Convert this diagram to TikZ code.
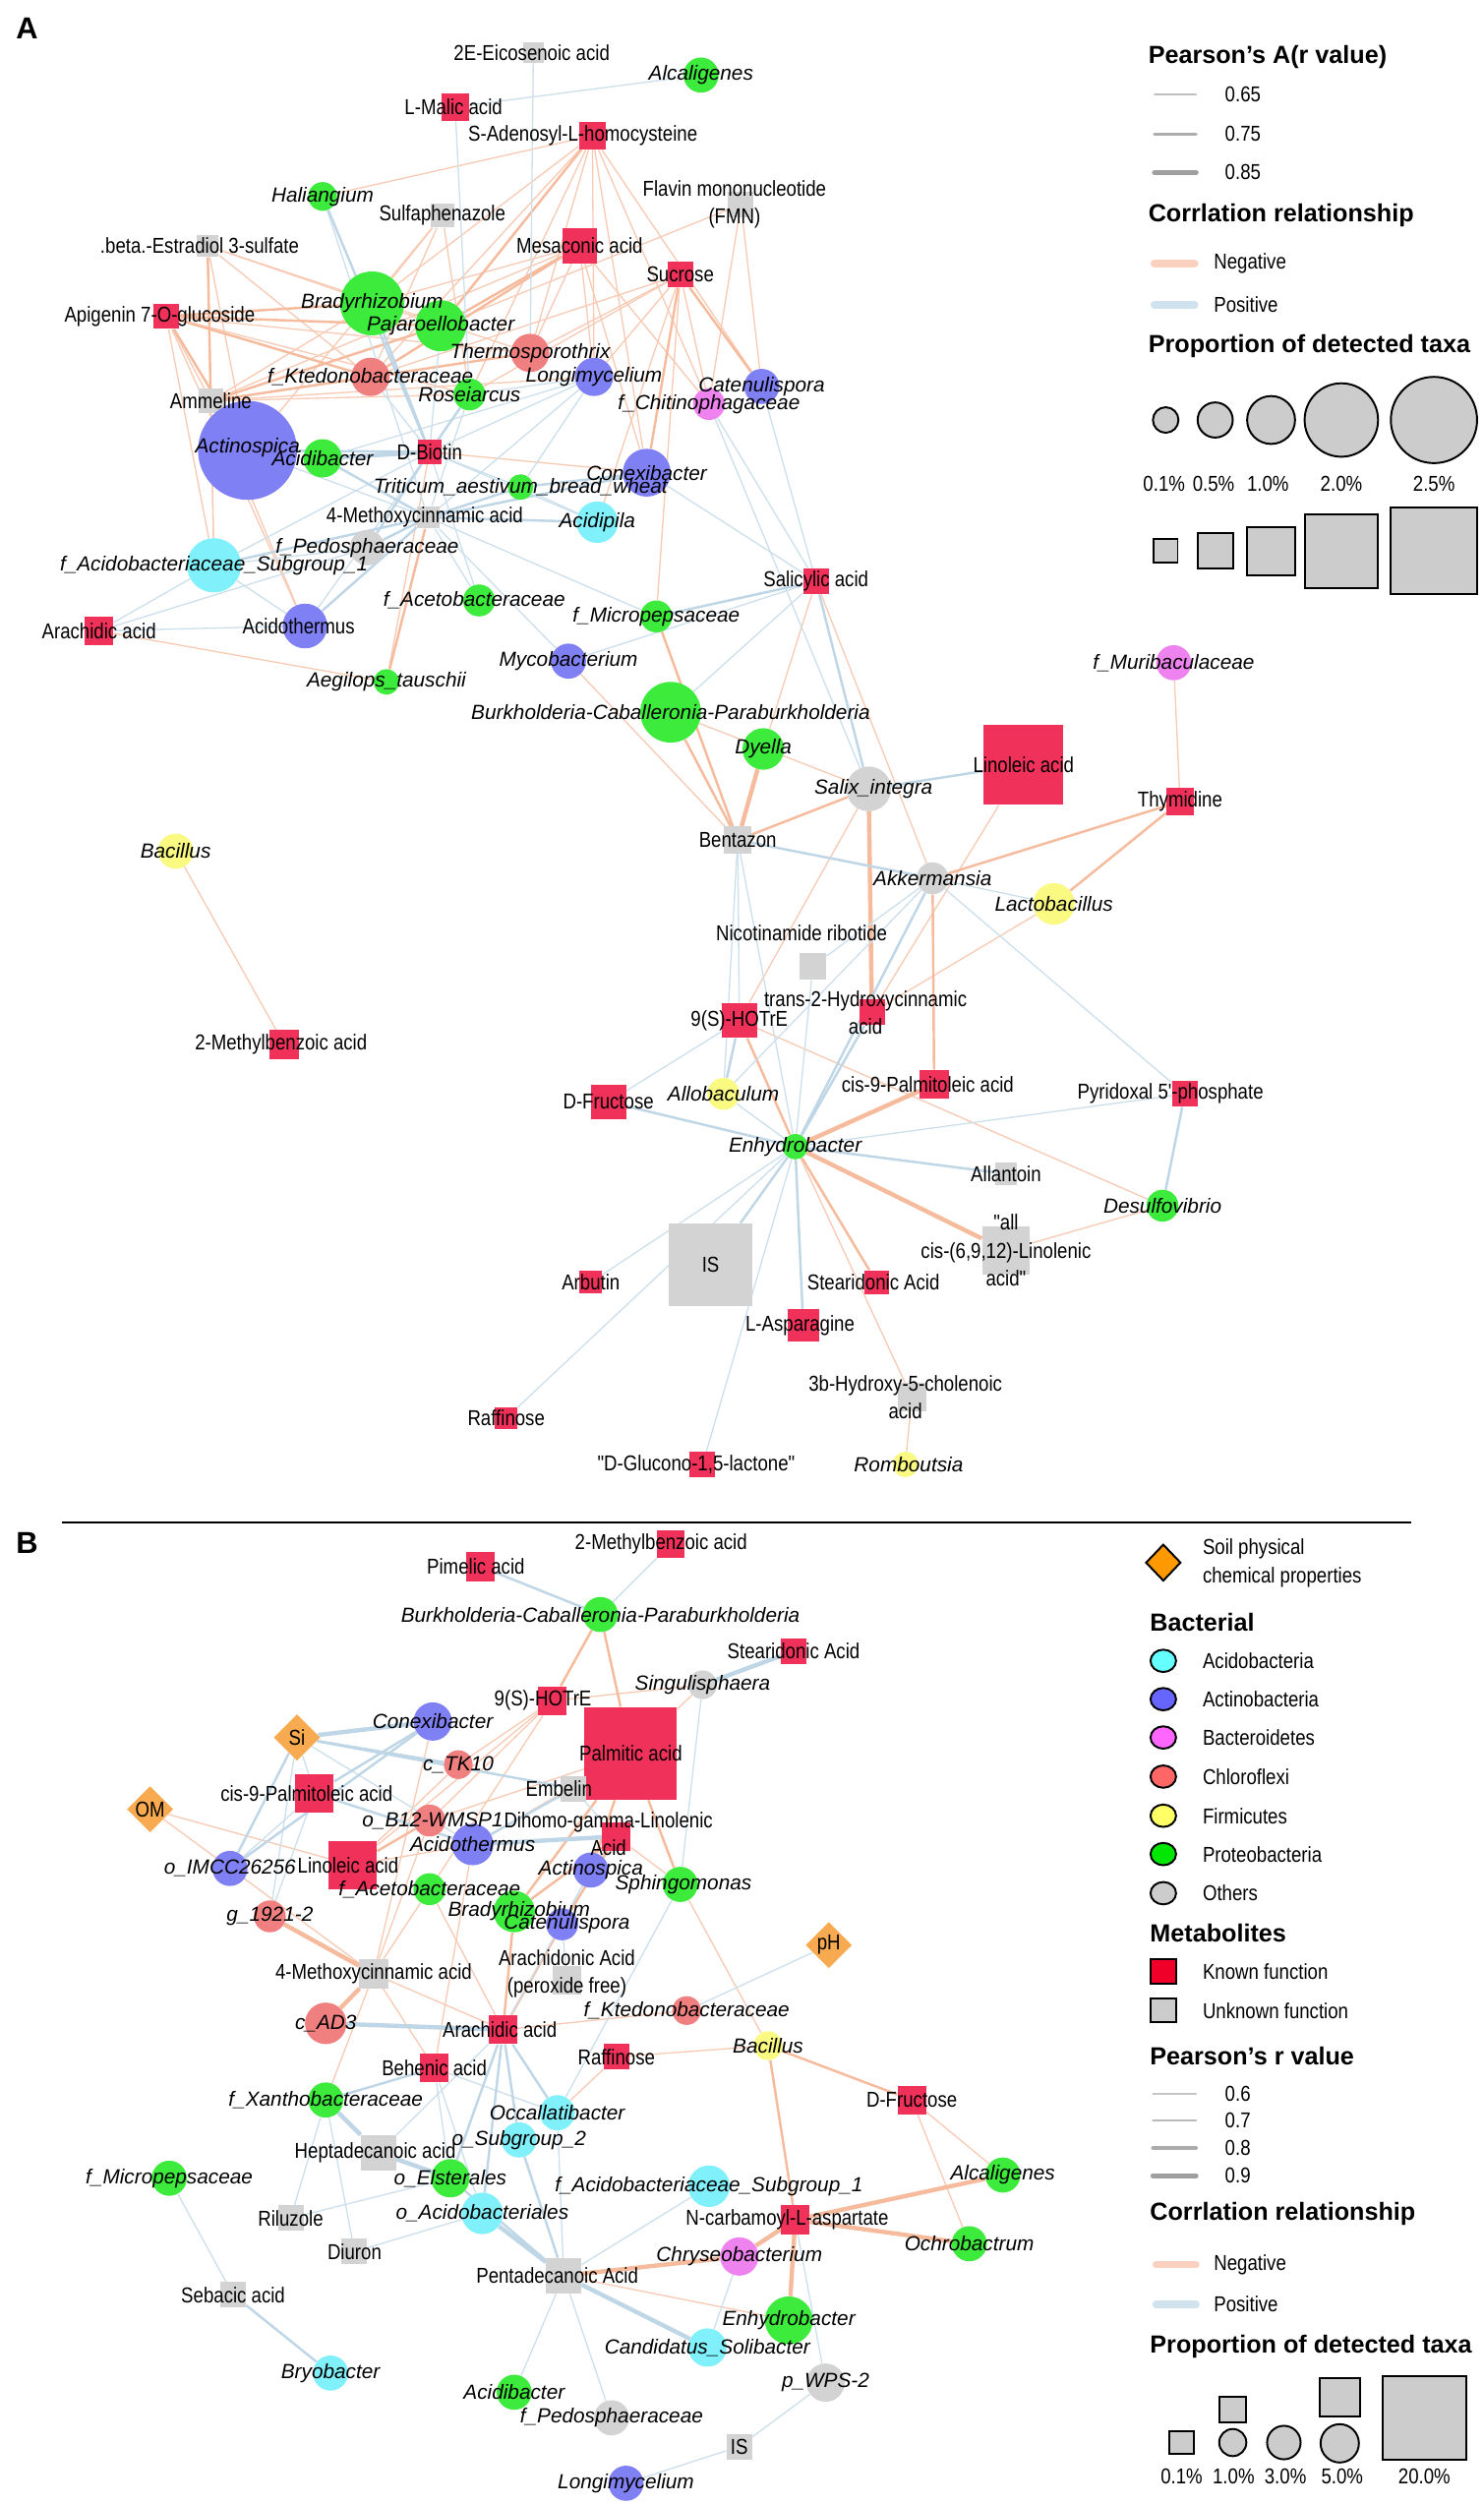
\documentclass[tikz,border=0pt]{standalone}
\usepackage{fontspec}
\setmainfont{Liberation Sans}
\newfontfamily\labf{Liberation Sans}[FakeStretch=0.85]
\usetikzlibrary{shapes.geometric}
\pgfdeclarelayer{bg}\pgfdeclarelayer{fg}
\pgfsetlayers{bg,main,fg}
\definecolor{cgreen}{RGB}{60,235,60}
\definecolor{cblue}{RGB}{128,128,245}
\definecolor{ccyan}{RGB}{128,240,250}
\definecolor{csal}{RGB}{240,128,128}
\definecolor{cmag}{RGB}{238,130,238}
\definecolor{cyel}{RGB}{250,250,130}
\definecolor{cgrey}{RGB}{211,211,211}
\definecolor{cred}{RGB}{240,50,90}
\definecolor{corange}{RGB}{248,170,80}
\definecolor{negc}{RGB}{246,186,156}
\definecolor{negt}{RGB}{248,202,180}
\definecolor{posc}{RGB}{190,214,230}
\definecolor{post}{RGB}{204,224,236}
\definecolor{negl}{RGB}{250,208,190}
\definecolor{posl}{RGB}{208,226,238}
\definecolor{lg}{RGB}{204,204,204}
\definecolor{Lcyan}{RGB}{102,255,255}
\definecolor{Lblue}{RGB}{102,102,255}
\definecolor{Lmag}{RGB}{255,102,255}
\definecolor{Lsal}{RGB}{255,102,102}
\definecolor{Lyel}{RGB}{255,255,102}
\definecolor{Lgreen}{RGB}{0,230,0}
\definecolor{Lred}{RGB}{240,0,40}
\definecolor{Lorange}{RGB}{255,153,0}
\tikzset{
  bc/.style={circle},
  ms/.style={rectangle},
  dm/.style={diamond},
  mlab/.style={font=\labf\fontsize{13.5}{17.5}\selectfont, inner sep=0pt, align=center, text=black},
  blab/.style={font=\fontsize{12.8}{15}\selectfont\itshape, inner sep=0pt, text=black},
  ttl/.style={font=\bfseries\fontsize{15.5}{18}\selectfont, anchor=west, inner sep=0pt},
  ltx/.style={font=\labf\fontsize{13.5}{16}\selectfont, anchor=west, inner sep=0pt},
  ctx/.style={font=\labf\fontsize{13.5}{16}\selectfont, inner sep=0pt},
  n1/.style={draw=negt, line width=0.8pt},
  n2/.style={draw=negc, line width=1.5pt},
  n3/.style={draw=negc, line width=2.7pt},
  p1/.style={draw=post, line width=0.8pt},
  p2/.style={draw=posc, line width=1.5pt},
  p3/.style={draw=posc, line width=2.7pt},
  lsh/.style={draw=black, line width=1.2pt, fill=lg, inner sep=0pt},
}
\newcommand{\nd}[8]{%
  \node[#2, fill=#6, minimum size=#5pt, inner sep=0pt] (#1) at (#3,#4) {};%
  \begin{pgfonlayer}{fg}\node[#7] (#1t) at (#3,#4) {#8};\end{pgfonlayer}}
\begin{document}
\begin{tikzpicture}[x=1pt,y=-1pt]
\begin{pgfonlayer}{bg}
\fill[white] (0,0) rectangle (929,1568);
\end{pgfonlayer}
\useasboundingbox (0,0) rectangle (929,1568);
\node[font=\bfseries\fontsize{19}{20}\selectfont] (pA) at (17,18) {A};
\node[font=\bfseries\fontsize{19}{20}\selectfont] (pB) at (17,966) {B};
\draw[line width=1.1pt] (39,953.5) -- (884,953.5);

% ---------------- Panel A nodes ----------------
\nd{aAlc}{bc}{439}{47}{22}{cgreen}{blab}{Alcaligenes}
\nd{a2E}{ms}{334}{33}{13}{cgrey}{mlab,xshift=-1pt}{2E-Eicosenoic acid}
\nd{aMal}{ms}{285}{67}{17}{cred}{mlab,xshift=-1pt}{L-Malic acid}
\nd{aSAH}{ms}{371}{85}{17}{cred}{mlab,xshift=-6pt}{S-Adenosyl-L-homocysteine}
\nd{aHal}{bc}{202}{123}{18}{cgreen}{blab}{Haliangium}
\nd{aSul}{ms}{277}{135}{15}{cgrey}{mlab}{Sulfaphenazole}
\nd{aFMN}{ms}{464}{128}{16}{cgrey}{mlab,xshift=-4pt}{Flavin mononucleotide\\(FMN)}
\nd{aEst}{ms}{130}{154}{14}{cgrey}{mlab,xshift=-5pt}{.beta.-Estradiol 3-sulfate}
\nd{aMes}{ms}{363}{154}{22}{cred}{mlab}{Mesaconic acid}
\nd{aSuc}{ms}{426}{172}{16}{cred}{mlab}{Sucrose}
\nd{aApi}{ms}{104}{198}{16}{cred}{mlab,xshift=-4pt}{Apigenin 7-O-glucoside}
\nd{aBra}{bc}{233}{190}{40}{cgreen}{blab}{Bradyrhizobium}
\nd{aPaj}{bc}{276}{204}{32}{cgreen}{blab}{Pajaroellobacter}
\nd{aThe}{bc}{332}{221}{24}{csal}{blab}{Thermosporothrix}
\nd{aKte}{bc}{232}{236}{24}{csal}{blab}{f\_Ktedonobacteraceae}
\nd{aLon}{bc}{372}{236}{24}{cblue}{blab}{Longimycelium}
\nd{aCat}{bc}{477}{242}{22}{cblue}{blab}{Catenulispora}
\nd{aChi}{bc}{444}{253}{20}{cmag}{blab}{f\_Chitinophagaceae}
\nd{aRos}{bc}{294}{247}{20}{cgreen}{blab}{Roseiarcus}
\nd{aAmm}{ms}{132}{251}{15}{cgrey}{mlab}{Ammeline}
\nd{aAct}{bc}{155}{282}{62}{cblue}{blab,yshift=2pt}{Actinospica}
\nd{aAcb}{bc}{202}{287}{24}{cgreen}{blab}{Acidibacter}
\nd{aBio}{ms}{269}{283}{15}{cred}{mlab}{D-Biotin}
\nd{aCon}{bc}{405}{296}{30}{cblue}{blab}{Conexibacter}
\nd{aTri}{bc}{326}{305}{16}{cgreen}{blab}{Triticum\_aestivum\_bread\_wheat}
\nd{aMet}{ms}{268}{324}{14}{cgrey}{mlab,xshift=-2pt}{4-Methoxycinnamic acid}
\nd{aAcp}{bc}{374}{327}{26}{ccyan}{blab}{Acidipila}
\nd{aPed}{bc}{230}{343}{22}{cgrey}{blab}{f\_Pedosphaeraceae}
\nd{aSub}{bc}{134}{354}{34}{ccyan}{blab}{f\_Acidobacteriaceae\_Subgroup\_1}
\nd{aAra}{ms}{62}{395}{18}{cred}{mlab}{Arachidic acid}
\nd{aAth}{bc}{191}{392}{28}{cblue}{mlab,xshift=-4pt}{Acidothermus}
\nd{aAce}{bc}{300}{376}{20}{cgreen}{blab,xshift=-3pt}{f\_Acetobacteraceae}
\nd{aMic}{bc}{411}{386}{20}{cgreen}{blab}{f\_Micropepsaceae}
\nd{aMyc}{bc}{356}{414}{22}{cblue}{blab}{Mycobacterium}
\nd{aAeg}{bc}{242}{427}{16}{cgreen}{blab}{Aegilops\_tauschii}
\nd{aSal}{ms}{511}{364}{16}{cred}{mlab}{Salicylic acid}
\nd{aBur}{bc}{420}{446}{38}{cgreen}{blab}{Burkholderia-Caballeronia-Paraburkholderia}
\nd{aDye}{bc}{478}{469}{26}{cgreen}{blab}{Dyella}
\nd{aMur}{bc}{735}{415}{22}{cmag}{blab}{f\_Muribaculaceae}
\nd{aSix}{bc}{544}{494}{28}{cgrey}{blab,xshift=3pt}{Salix\_integra}
\nd{aLin}{ms}{641}{479}{50}{cred}{mlab}{Linoleic acid}
\nd{aThy}{ms}{739}{502}{17}{cred}{mlab}{Thymidine}
\nd{aBen}{ms}{462}{526}{17}{cgrey}{mlab}{Bentazon}
\nd{aAkk}{bc}{584}{550}{20}{cgrey}{blab}{Akkermansia}
\nd{aLac}{bc}{660}{566}{26}{cyel}{blab}{Lactobacillus}
\nd{aBac}{bc}{110}{533}{22}{cyel}{blab}{Bacillus}
\nd{aNic}{ms}{509}{605}{17}{cgrey}{mlab,xshift=-7pt,yshift=21pt}{Nicotinamide ribotide}
\nd{aTra}{ms}{546}{634}{16}{cred}{mlab,xshift=-4pt}{trans-2-Hydroxycinnamic\\acid}
\nd{aHot}{ms}{463}{639}{22}{cred}{mlab}{9(S)-HOTrE}
\nd{aMbz}{ms}{178}{654}{18}{cred}{mlab,xshift=-2pt}{2-Methylbenzoic acid}
\nd{aFru}{ms}{381}{690}{22}{cred}{mlab}{D-Fructose}
\nd{aAll}{bc}{453}{685}{20}{cyel}{blab}{Allobaculum}
\nd{aPal}{ms}{585}{679}{18}{cred}{mlab,xshift=-4pt}{cis-9-Palmitoleic acid}
\nd{aPyr}{ms}{742}{685}{16}{cred}{mlab,xshift=-9pt}{Pyridoxal 5'-phosphate}
\nd{aEnh}{bc}{498}{718}{16}{cgreen}{blab}{Enhydrobacter}
\nd{aAln}{ms}{630}{735}{14}{cgrey}{mlab}{Allantoin}
\nd{aDes}{bc}{728}{755}{20}{cgreen}{blab}{Desulfovibrio}
\nd{aLnl}{ms}{630}{783}{30}{cgrey}{mlab}{"all\\cis-(6,9,12)-Linolenic\\acid"}
\nd{aIS}{ms}{445}{792}{52}{cgrey}{mlab}{IS}
\nd{aArb}{ms}{370}{803}{14}{cred}{mlab}{Arbutin}
\nd{aSte}{ms}{549}{803}{15}{cred}{mlab,xshift=-2pt}{Stearidonic Acid}
\nd{aAsn}{ms}{503}{830}{20}{cred}{mlab,xshift=-2pt}{L-Asparagine}
\nd{aHyd}{ms}{571}{875}{18}{cgrey}{mlab,xshift=-4pt}{3b-Hydroxy-5-cholenoic\\acid}
\nd{aRaf}{ms}{317}{888}{14}{cred}{mlab}{Raffinose}
\nd{aGlu}{ms}{440}{917}{16}{cred}{mlab,xshift=-4pt}{"D-Glucono-1,5-lactone"}
\nd{aRom}{bc}{567}{917}{16}{cyel}{blab,xshift=2pt}{Romboutsia}

% ---------------- Panel B nodes ----------------
\nd{bMbz}{ms}{420}{967}{17}{cred}{mlab,xshift=-6pt}{2-Methylbenzoic acid}
\nd{bPim}{ms}{301}{981}{18}{cred}{mlab,xshift=-3pt}{Pimelic acid}
\nd{bBur}{bc}{376}{1011}{22}{cgreen}{blab}{Burkholderia-Caballeronia-Paraburkholderia}
\nd{bSte}{ms}{497}{1034}{16}{cred}{mlab}{Stearidonic Acid}
\nd{bSin}{bc}{440}{1055}{18}{cgrey}{blab}{Singulisphaera}
\nd{bHot}{ms}{346}{1065}{18}{cred}{mlab,xshift=-6pt}{9(S)-HOTrE}
\nd{bPal}{ms}{395}{1098}{58}{cred}{mlab}{Palmitic acid}
\nd{bCon}{bc}{271}{1078}{24}{cblue}{blab}{Conexibacter}
\nd{bSi}{dm}{186}{1088}{29}{corange}{mlab}{Si}
\nd{bTK}{bc}{287}{1105}{18}{csal}{blab}{c\_TK10}
\nd{bEmb}{ms}{359}{1120}{16}{cgrey}{mlab,xshift=-9pt}{Embelin}
\nd{bCis}{ms}{197}{1123}{24}{cred}{mlab,xshift=-5pt}{cis-9-Palmitoleic acid}
\nd{bOM}{dm}{94}{1133}{29}{corange}{mlab}{OM}
\nd{bB}{bc}{269}{1140}{20}{csal}{blab,xshift=2pt}{o\_B12-WMSP1}
\nd{bDih}{ms}{386}{1150}{18}{cred}{mlab,xshift=-5pt,yshift=1.5pt}{Dihomo-gamma-Linolenic\\Acid}
\nd{bAth}{bc}{296}{1155}{26}{cblue}{blab}{Acidothermus}
\nd{bIMC}{bc}{144}{1170}{22}{cblue}{blab}{o\_IMCC26256}
\nd{bLin}{ms}{221}{1168}{30}{cred}{mlab,xshift=-3pt}{Linoleic acid}
\nd{bAct}{bc}{370}{1171}{22}{cblue}{blab}{Actinospica}
\nd{bSph}{bc}{426}{1180}{22}{cgreen}{blab,xshift=2pt}{Sphingomonas}
\nd{bAce}{bc}{269}{1183}{20}{cgreen}{blab}{f\_Acetobacteraceae}
\nd{bG}{bc}{169}{1200}{20}{csal}{blab}{g\_1921-2}
\nd{bBra}{bc}{322}{1197}{26}{cgreen}{blab,xshift=3pt}{Bradyrhizobium}
\nd{bCat}{bc}{352}{1205}{20}{cblue}{blab,xshift=3pt}{Catenulispora}
\nd{bMet}{ms}{234}{1236}{18}{cgrey}{mlab}{4-Methoxycinnamic acid}
\nd{bArd}{ms}{355}{1240}{18}{cgrey}{mlab,yshift=4pt}{Arachidonic Acid\\(peroxide free)}
\nd{bpH}{dm}{519}{1218}{29}{corange}{mlab}{pH}
\nd{bAD}{bc}{204}{1267}{26}{csal}{blab}{c\_AD3}
\nd{bKte}{bc}{430}{1259}{18}{csal}{blab}{f\_Ktedonobacteraceae}
\nd{bAra}{ms}{315}{1271}{18}{cred}{mlab,xshift=-2pt}{Arachidic acid}
\nd{bRaf}{ms}{386}{1288}{16}{cred}{mlab}{Raffinose}
\nd{bBac}{bc}{481}{1281}{18}{cyel}{blab}{Bacillus}
\nd{bBeh}{ms}{272}{1295}{18}{cred}{mlab}{Behenic acid}
\nd{bFru}{ms}{571}{1315}{18}{cred}{mlab}{D-Fructose}
\nd{bXan}{bc}{204}{1315}{22}{cgreen}{blab}{f\_Xanthobacteraceae}
\nd{bOcc}{bc}{349}{1323}{22}{ccyan}{blab}{Occallatibacter}
\nd{bSubb}{bc}{325}{1340}{22}{ccyan}{blab}{o\_Subgroup\_2}
\nd{bHep}{ms}{237}{1348}{22}{cgrey}{mlab,xshift=-2pt}{Heptadecanoic acid}
\nd{bEls}{bc}{282}{1364}{24}{cgreen}{blab}{o\_Elsterales}
\nd{bMic}{bc}{106}{1364}{22}{cgreen}{blab}{f\_Micropepsaceae}
\nd{bSub}{bc}{444}{1369}{26}{ccyan}{blab}{f\_Acidobacteriaceae\_Subgroup\_1}
\nd{bAlc}{bc}{628}{1362}{22}{cgreen}{blab}{Alcaligenes}
\nd{bAcr}{bc}{302}{1386}{26}{ccyan}{blab}{o\_Acidobacteriales}
\nd{bNca}{ms}{498}{1390}{18}{cred}{mlab,xshift=-5pt}{N-carbamoyl-L-aspartate}
\nd{bRil}{ms}{182}{1389}{16}{cgrey}{mlab}{Riluzole}
\nd{bDiu}{ms}{222}{1410}{16}{cgrey}{mlab}{Diuron}
\nd{bOch}{bc}{607}{1405}{22}{cgreen}{blab}{Ochrobactrum}
\nd{bChr}{bc}{463}{1413}{24}{cmag}{blab}{Chryseobacterium}
\nd{bPen}{ms}{353}{1425}{22}{cgrey}{mlab,xshift=-4pt}{Pentadecanoic Acid}
\nd{bSeb}{ms}{146}{1437}{16}{cgrey}{mlab}{Sebacic acid}
\nd{bEnh}{bc}{494}{1453}{30}{cgreen}{blab}{Enhydrobacter}
\nd{bSol}{bc}{443}{1470}{24}{ccyan}{blab}{Candidatus\_Solibacter}
\nd{bBry}{bc}{207}{1486}{22}{ccyan}{blab}{Bryobacter}
\nd{bWPS}{bc}{517}{1492}{24}{cgrey}{blab}{p\_WPS-2}
\nd{bAcb}{bc}{322}{1498}{22}{cgreen}{blab}{Acidibacter}
\nd{bPed}{bc}{383}{1514}{22}{cgrey}{blab}{f\_Pedosphaeraceae}
\nd{bIS}{ms}{463}{1532}{16}{cgrey}{mlab}{IS}
\nd{bLon}{bc}{392}{1555}{22}{cblue}{blab}{Longimycelium}

% ---------------- Edges ----------------
\begin{pgfonlayer}{bg}
% panel A negative
\foreach \a/\b in {aSAH/aHal,aSAH/aBra,aSAH/aThe,aSAH/aKte,aSAH/aLon,aSAH/aRos,aSAH/aCat,aSAH/aChi,aSAH/aCon,
  aMes/aThe,aMes/aLon,aMes/aCon,aMes/aAmm,aMes/aChi,aMes/aBra,aSuc/aChi,aSuc/aLon,aSuc/aThe,aSuc/aRos,aSuc/aKte,aSuc/aAcp,
  aFMN/aPaj,aFMN/aCat,aFMN/aChi,aSul/aBra,aSul/aAct,aSul/aRos,aSul/aKte,aEst/aPaj,aEst/aThe,aEst/aAct,aEst/aKte,aEst/aSub,
  aApi/aThe,aApi/aAmm,aApi/aSub,aApi/aRos,aAmm/aBra,aAmm/aKte,aAmm/aRos,aAmm/aSub,aAmm/aLon,aAra/aAeg,aBio/aCon,aAeg/aBio,
  aAth/aAmm,aAth/aApi,aMic/aSuc,aMyc/aBen,aBur/aSix,aSal/aAkk,aSal/aDye,aThy/aMur,aLin/aTra,aEnh/aHyd,aHyd/aRom,aLnl/aDes,
  aBac/aMbz,aHot/aDes,aLac/aTra,aSix/aHot}
  \draw[n1] (\a) -- (\b);
\foreach \a/\b in {aSAH/aPaj,aMes/aKte,aMes/aPaj,aSuc/aCon,aSuc/aCat,aEst/aAmm,aApi/aPaj,aApi/aBra,aApi/aKte,aApi/aAct,
  aAmm/aPaj,aAmm/aThe,aMet/aAeg,aMic/aBen,aBur/aBen,aSix/aBen,aThy/aAkk,aThy/aLac,aAkk/aPal,aEnh/aSte,aEnh/aHot}
  \draw[n2] (\a) -- (\b);
\foreach \a/\b in {aDye/aBen,aSix/aTra,aEnh/aPal,aEnh/aLnl}
  \draw[n3] (\a) -- (\b);
% panel A positive
\foreach \a/\b in {a2E/aThe,aMal/aAlc,aMal/aRos,aBio/aTri,aBio/aPaj,aBio/aSub,aBio/aAth,aBio/aLon,aBio/aAcp,aBio/aAce,aBio/aKte,
  aMet/aAct,aMet/aAce,aMet/aLon,aMet/aRos,aMet/aMyc,aMet/aMic,aTri/aLon,aTri/aAcp,aAra/aSub,aAra/aPed,aAra/aAth,aSub/aPed,
  aSub/aAth,aLon/aAcb,aLon/aRos,aCat/aSal,aChi/aSix,aCon/aSal,aSal/aBur,aSal/aMyc,aBen/aAll,aBen/aEnh,aBen/aHot,aAkk/aLac,
  aAkk/aNic,aAkk/aPyr,aAkk/aAll,aFru/aHot,aEnh/aPyr,aEnh/aArb,aEnh/aRaf,aEnh/aGlu,aEnh/aAll,aHal/aMet,aChi/aSal,aNic/aEnh}
  \draw[p1] (\a) -- (\b);
\foreach \a/\b in {aHal/aBio,aBio/aAct,aBio/aRos,aBio/aBra,aBio/aPed,aMet/aAcb,aMet/aTri,aMet/aAcp,aMet/aPed,aMet/aSub,
  aMet/aAth,aMet/aCon,aTri/aCon,aSal/aMic,aSal/aSix,aSix/aLin,aBen/aAkk,aAkk/aEnh,aTra/aEnh,aHot/aAll,aFru/aEnh,aEnh/aAln,
  aEnh/aAsn,aEnh/aIS,aDes/aPyr}
  \draw[p2] (\a) -- (\b);
\foreach \a/\b in {aBio/aAcb}
  \draw[p3] (\a) -- (\b);
% panel B negative
\foreach \a/\b in {bHot/bSin,bPal/bSin,bHot/bTK,bHot/bB,bHot/bAce,bHot/bLin,bPal/bB,bPal/bAth,bDih/bSph,bDih/bAct,bLin/bTK,
  bLin/bAth,bOM/bMet,bOM/bLin,bMet/bAce,bMet/bB,bMet/bCon,bMet/bBeh,bMet/bXan,bMet/bAra,bAra/bKte,bAra/bAce,bBeh/bAth,
  bRaf/bBac,bRaf/bOcc,bBac/bSph,bFru/bAlc,bFru/bOch,bPen/bEnh}
  \draw[n1] (\a) -- (\b);
\foreach \a/\b in {bBur/bHot,bBur/bPal,bPal/bAct,bPal/bBra,bPal/bSph,bDih/bBra,bDih/bCat,bLin/bB,bAra/bBra,bAra/bCat,
  bBac/bFru,bBac/bNca}
  \draw[n2] (\a) -- (\b);
\foreach \a/\b in {bG/bMet,bMet/bAD,bNca/bAlc,bNca/bOch,bNca/bChr,bNca/bEnh,bPen/bChr}
  \draw[n3] (\a) -- (\b);
% panel B positive
\foreach \a/\b in {bMbz/bBur,bSi/bCis,bSi/bAth,bSi/bG,bCis/bIMC,bCis/bG,bEmb/bDih,bAct/bCat,bSin/bSph,bArd/bCat,bAra/bHep,
  bBeh/bEls,bBeh/bAcr,bBeh/bOcc,bXan/bRil,bXan/bDiu,bRil/bEls,bDiu/bAcr,bMic/bSeb,bPen/bOcc,bPen/bSub,bPen/bAcb,bPen/bPed,
  bNca/bWPS,bWPS/bIS,bIS/bLon,bChr/bSol,bKte/bpH,bSph/bOcc,bAct/bAra}
  \draw[p1] (\a) -- (\b);
\foreach \a/\b in {bPim/bBur,bSi/bTK,bSi/bIMC,bSi/bEmb,bCis/bCon,bCis/bAth,bEmb/bAth,bCon/bIMC,bAra/bOcc,bAra/bSubb,
  bAra/bEls,bAra/bAcr,bBeh/bXan,bSeb/bBry,bPen/bEls,bPen/bSubb}
  \draw[p2] (\a) -- (\b);
\foreach \a/\b in {bSte/bSin,bSi/bCon,bAth/bDih,bAD/bAra,bXan/bHep,bHep/bEls,bPen/bSol,bPen/bAcr}
  \draw[p3] (\a) -- (\b);
\end{pgfonlayer}

% ---------------- Legend A ----------------
\node[ttl] (LA1) at (719,36) {Pearson’s A(r value)};
\draw[draw=gray!50, line width=1pt, line cap=round] (723,59) -- (749,59);
\draw[draw=gray!65, line width=2pt, line cap=round] (723,84) -- (749,84);
\draw[draw=gray!75, line width=3.2pt, line cap=round] (723,108) -- (749,108);
\node[ltx] (LA2) at (767,59) {0.65};
\node[ltx] (LA3) at (767,84) {0.75};
\node[ltx] (LA4) at (767,108) {0.85};
\node[ttl] (LA5) at (719,135) {Corrlation relationship};
\draw[draw=negl, line width=5pt, line cap=round] (723,165) -- (748,165);
\draw[draw=posl, line width=5pt, line cap=round] (723,191) -- (748,191);
\node[ltx] (LA6) at (760,165) {Negative};
\node[ltx] (LA7) at (760,191) {Positive};
\node[ttl] (LA8) at (719,217) {Proportion of detected taxa};
\foreach \x/\d in {730/16,761/22,796/30,840/46,898/54}
  \node[lsh, circle, minimum size=\d pt] at (\x,263) {};
\foreach \x/\t in {729/0.1,760/0.5,794/1.0,840/2.0,898/2.5}
  \node[ctx] at (\x,303) {\t\%};
\foreach \x/\d in {730/15,761/22,796/30,840/46,898/54}
  \node[lsh, rectangle, minimum size=\d pt] at (\x,345) {};

% ---------------- Legend B ----------------
\node[lsh, diamond, fill=Lorange, minimum width=22pt, minimum height=23pt] (LBd) at (728.5,978.5) {};
\node[ltx] (LB1) at (753,970) {Soil physical};
\node[ltx] (LB2) at (753,988) {chemical properties};
\node[ttl] (LB3) at (720,1016) {Bacterial};
\foreach \y/\c/\t in {1040/Lcyan/Acidobacteria,1064/Lblue/Actinobacteria,1088/Lmag/Bacteroidetes,1112.5/Lsal/Chloroflexi,
  1137/Lyel/Firmicutes,1161/Lgreen/Proteobacteria,1185.5/lg/Others}{
  \node[lsh, ellipse, fill=\c, minimum width=16pt, minimum height=14pt] at (728.5,\y) {};
  \node[ltx] at (753,\y) {\t};}
\node[ttl] (LB4) at (720,1210.5) {Metabolites};
\node[lsh, rectangle, fill=Lred, minimum width=16pt, minimum height=15pt] at (728.5,1234.5) {};
\node[lsh, rectangle, minimum width=16pt, minimum height=15pt] at (728.5,1259) {};
\node[ltx] (LB5) at (753,1234.5) {Known function};
\node[ltx] (LB6) at (753,1259) {Unknown function};
\node[ttl] (LB7) at (720,1287.5) {Pearson’s r value};
\draw[draw=gray!45, line width=1pt, line cap=round] (722,1311) -- (749,1311);
\draw[draw=gray!55, line width=1.4pt, line cap=round] (722,1328) -- (749,1328);
\draw[draw=gray!65, line width=2.3pt, line cap=round] (722,1345) -- (749,1345);
\draw[draw=gray!75, line width=3.1pt, line cap=round] (722,1362.5) -- (749,1362.5);
\node[ltx] at (767,1311) {0.6};
\node[ltx] at (767,1328) {0.7};
\node[ltx] at (767,1345) {0.8};
\node[ltx] at (767,1362.5) {0.9};
\node[ttl] (LB8) at (720,1386.5) {Corrlation relationship};
\draw[draw=negl, line width=4.5pt, line cap=round] (724,1418) -- (749,1418);
\draw[draw=posl, line width=4.5pt, line cap=round] (724,1443) -- (749,1443);
\node[ltx] at (760,1418) {Negative};
\node[ltx] at (760,1443) {Positive};
\node[ttl] (LB9) at (720,1469.5) {Proportion of detected taxa};
\node[lsh, rectangle, minimum width=15pt, minimum height=14.5pt] at (740,1529.5) {};
\node[lsh, rectangle, minimum width=17pt, minimum height=16pt] at (772,1509) {};
\node[lsh, circle, minimum size=17pt] at (772,1529.5) {};
\node[lsh, circle, minimum size=21pt] at (804,1529.5) {};
\node[lsh, rectangle, minimum width=25pt, minimum height=24pt] at (839,1501) {};
\node[lsh, circle, minimum size=24pt] at (839,1530) {};
\node[lsh, rectangle, minimum size=52pt] at (892,1514) {};
\foreach \x/\t in {740/0.1,772.5/1.0,805/3.0,840.5/5.0,892/20.0}
  \node[ctx] at (\x,1551) {\t\%};
\end{tikzpicture}
\end{document}
